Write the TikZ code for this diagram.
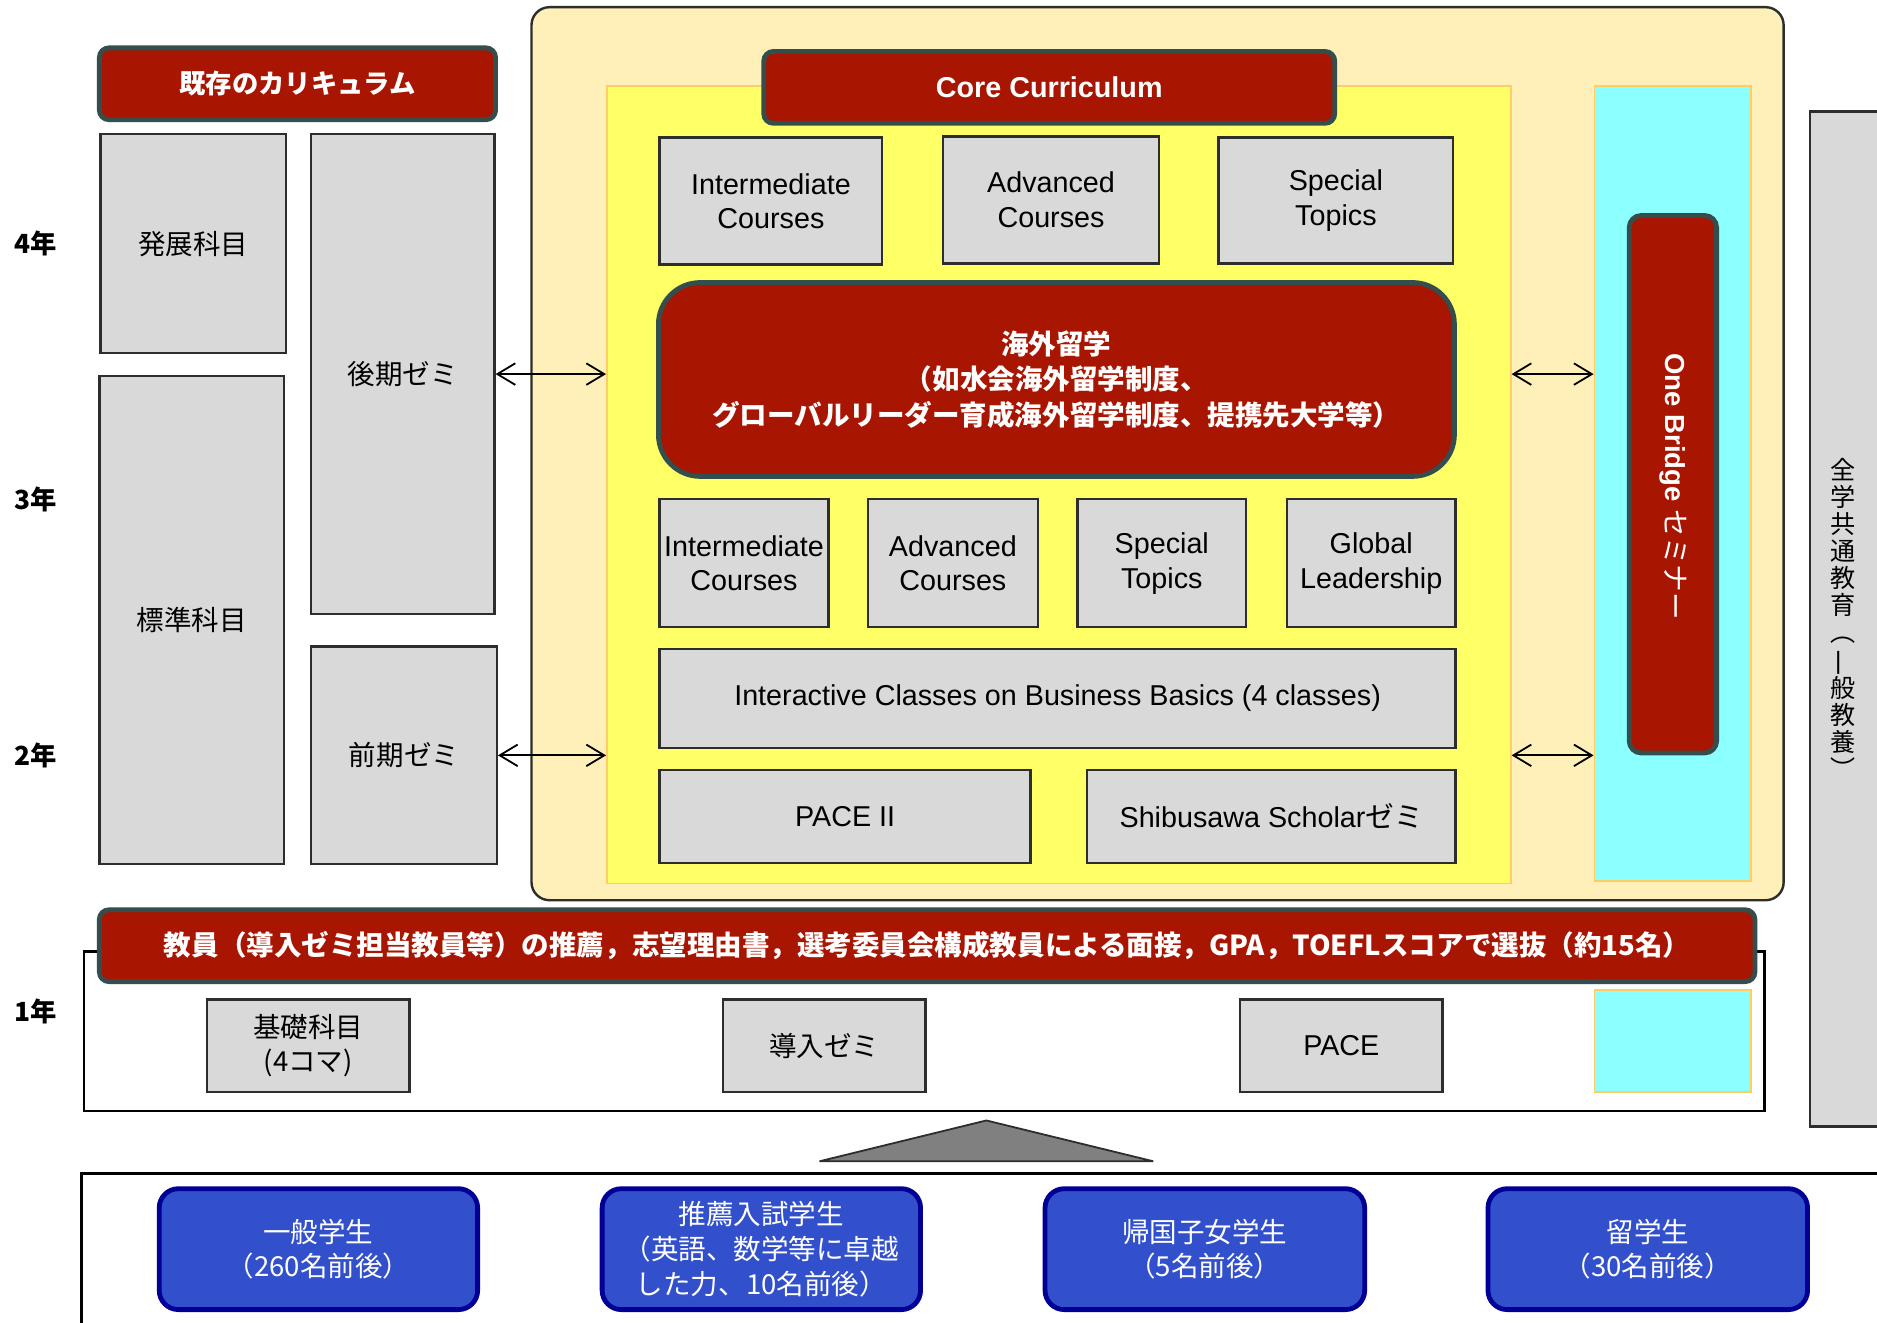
\documentclass[tikz,border=0pt]{standalone}
\usepackage{fontspec}
\usepackage{graphicx}
\setmainfont{Liberation Sans}
\newfontfamily\jp{Noto Sans CJK JP}
\usetikzlibrary{arrows.meta}
\definecolor{dred}{RGB}{168,21,0}
\definecolor{slate}{RGB}{52,78,78}
\definecolor{bgray}{RGB}{217,217,217}
\definecolor{bline}{RGB}{45,45,45}
\definecolor{beige}{RGB}{255,239,185}
\definecolor{yel}{RGB}{255,255,102}
\definecolor{ybord}{RGB}{255,204,102}
\definecolor{cyn}{RGB}{140,255,255}
\definecolor{bfill}{RGB}{50,80,204}
\definecolor{bnavy}{RGB}{0,0,150}
\definecolor{trigray}{RGB}{128,128,128}
\newcommand{\bx}[7]{\node[#1, minimum width={(#5-#3)*1pt}, minimum height={(#6-#4)*1pt}] (#2) at ({(#3+#5)/2},{(#4+#6)/2}) {#7};}
\newcommand{\vrot}[2]{\rotatebox[origin=c]{#1}{#2}}
\begin{document}
\begin{tikzpicture}[x=1pt,y=-1pt,
  gbox/.style={draw=bline, fill=bgray, line width=2pt, inner sep=0pt, align=center, font=\fontsize{24}{29}\selectfont},
  jbox/.style={gbox, font=\jp\fontsize{23}{29}\selectfont},
  redbox/.style={draw=slate, fill=dred, line width=4pt, rounded corners=8pt, text=white, inner sep=0pt, align=center, font=\jp\bfseries\fontsize{22}{27}\selectfont},
  bluebox/.style={draw=bnavy, fill=bfill, line width=4pt, rounded corners=16pt, text=white, inner sep=0pt, align=center, font=\jp\fontsize{23}{29}\selectfont},
  area/.style={draw=ybord, line width=1.5pt, inner sep=0pt},
  year/.style={font=\jp\bfseries\fontsize{22}{26}\selectfont},
  arr/.style={{Straight Barb[length=15pt,width=18pt]}-{Straight Barb[length=15pt,width=18pt]}, line width=1.5pt}
]
\useasboundingbox (0,0) rectangle (1568,1105);
\fill[white] (0,0) rectangle (1568,1105);

% year labels
\node[year] (y4) at (30,203) {4年};
\node[year] (y3) at (30,417) {3年};
\node[year] (y2) at (30,631) {2年};
\node[year] (y1) at (30,845) {1年};

% existing curriculum
\bx{redbox}{kizon}{83}{40}{414}{100}{既存のカリキュラム}
\bx{jbox}{hatten}{84}{112}{239}{295}{発展科目}
\bx{jbox}{hyojun}{83}{314}{237}{722}{標準科目}
\bx{jbox}{kouki}{260}{112}{413}{513}{後期ゼミ}
\bx{jbox}{zenki}{260}{540}{415}{722}{前期ゼミ}

% outer beige area
\bx{draw=bline, fill=beige, line width=2pt, rounded corners=15pt, inner sep=0pt}{beigearea}{444}{6}{1490}{752}{}
\bx{area, fill=yel}{yellow}{507}{72}{1262}{738}{}
\bx{area, fill=cyn}{cyan}{1332}{72}{1463}{736}{}

\bx{redbox, font=\bfseries\fontsize{24}{28}\selectfont}{core}{638}{43}{1115}{103}{Core Curriculum}

\bx{gbox}{ic1}{551}{115}{737}{221}{Intermediate\\Courses}
\bx{gbox}{ac1}{788}{114}{968}{220}{Advanced\\Courses}
\bx{gbox}{st1}{1018}{115}{1214}{220}{Special\\Topics}

\bx{redbox, rounded corners=35pt, font=\jp\bfseries\fontsize{23}{29.5}\selectfont}{kaigai}{550}{236}{1215}{398}{海外留学\\（如水会海外留学制度、\\グローバルリーダー育成海外留学制度、提携先大学等）}

\bx{gbox}{ic2}{551}{417}{692}{524}{Intermediate\\Courses}
\bx{gbox}{ac2}{725}{417}{867}{524}{Advanced\\Courses}
\bx{gbox}{st2}{900}{417}{1041}{524}{Special\\Topics}
\bx{gbox}{gl2}{1075}{417}{1216}{524}{Global\\Leadership}
\bx{gbox}{icbb}{551}{542}{1216}{625}{Interactive Classes on Business Basics (4 classes)}
\bx{gbox}{pace2}{551}{643}{861}{721}{PACE II}
\bx{gbox}{shibu}{908}{643}{1216}{721}{Shibusawa Scholar{\jp ゼミ}}

% One Bridge
\bx{redbox, rounded corners=10pt}{obbox}{1361}{180}{1434}{629}{}
\node[text=white, font=\bfseries\fontsize{23}{27}\selectfont, rotate=-90] (obtext) at ([yshift=-2pt]obbox.center) {One Bridge {\jp\mdseries セミナー}};

% arrows
\draw[arr] (kouki.east) -- (kouki.east -| yellow.west);
\draw[arr] (zenki.east) -- (zenki.east -| yellow.west);
\draw[arr] (yellow.east |- kouki.east) -- (cyan.west |- kouki.east);
\draw[arr] (yellow.east |- zenki.east) -- (cyan.west |- zenki.east);

% general education column
\bx{draw=bline, fill=bgray, line width=2pt, inner sep=0pt}{zengaku}{1512}{93}{1580}{941}{}
\node[font=\jp\fontsize{21}{22.5}\selectfont, align=center, inner sep=0pt] (zgtext) at (1540,518) {全\\学\\共\\通\\教\\育\\\vrot{-90}{（}\\\vrot{90}{一}\\般\\教\\養\\\vrot{-90}{）}};

% first year
\bx{draw=black, fill=white, line width=2pt, inner sep=0pt}{year1}{70}{795}{1474}{928}{}
\bx{redbox, font=\jp\bfseries\fontsize{23}{26}\selectfont}{banner}{83}{760}{1466}{820}{教員（導入ゼミ担当教員等）の推薦，志望理由書，選考委員会構成教員による面接，GPA，TOEFLスコアで選抜（約15名）}
\bx{jbox, font=\jp\fontsize{23}{29}\selectfont}{kiso}{173}{835}{342}{912}{基礎科目\\(4コマ)}
\bx{jbox}{donyu}{604}{835}{773}{912}{導入ゼミ}
\bx{gbox}{pace}{1036}{835}{1205}{912}{PACE}
\bx{area, fill=cyn}{cyan1}{1332}{827}{1463}{912}{}

% triangle
\coordinate (tl) at (685,970);
\coordinate (tt) at (824,936);
\coordinate (tr) at (963,970);
\draw[fill=trigray, draw=bline, line width=1.5pt, line join=round] (tl) -- (tt) -- (tr) -- cycle;

% bottom frame
\coordinate (bf1) at (68,1110);
\coordinate (bf2) at (68,980);
\coordinate (bf3) at (1575,980);
\draw[line width=2.5pt] (bf1) -- (bf2) -- (bf3);

\bx{bluebox}{ippan}{133}{993}{399}{1094}{一般学生\\（260名前後）}
\bx{bluebox}{suisen}{503}{993}{769}{1094}{推薦入試学生\\（英語、数学等に卓越\\した力、10名前後）}
\bx{bluebox}{kikoku}{873}{993}{1140}{1094}{帰国子女学生\\（5名前後）}
\bx{bluebox}{ryugaku}{1243}{993}{1510}{1094}{留学生\\（30名前後）}
\end{tikzpicture}
\end{document}
